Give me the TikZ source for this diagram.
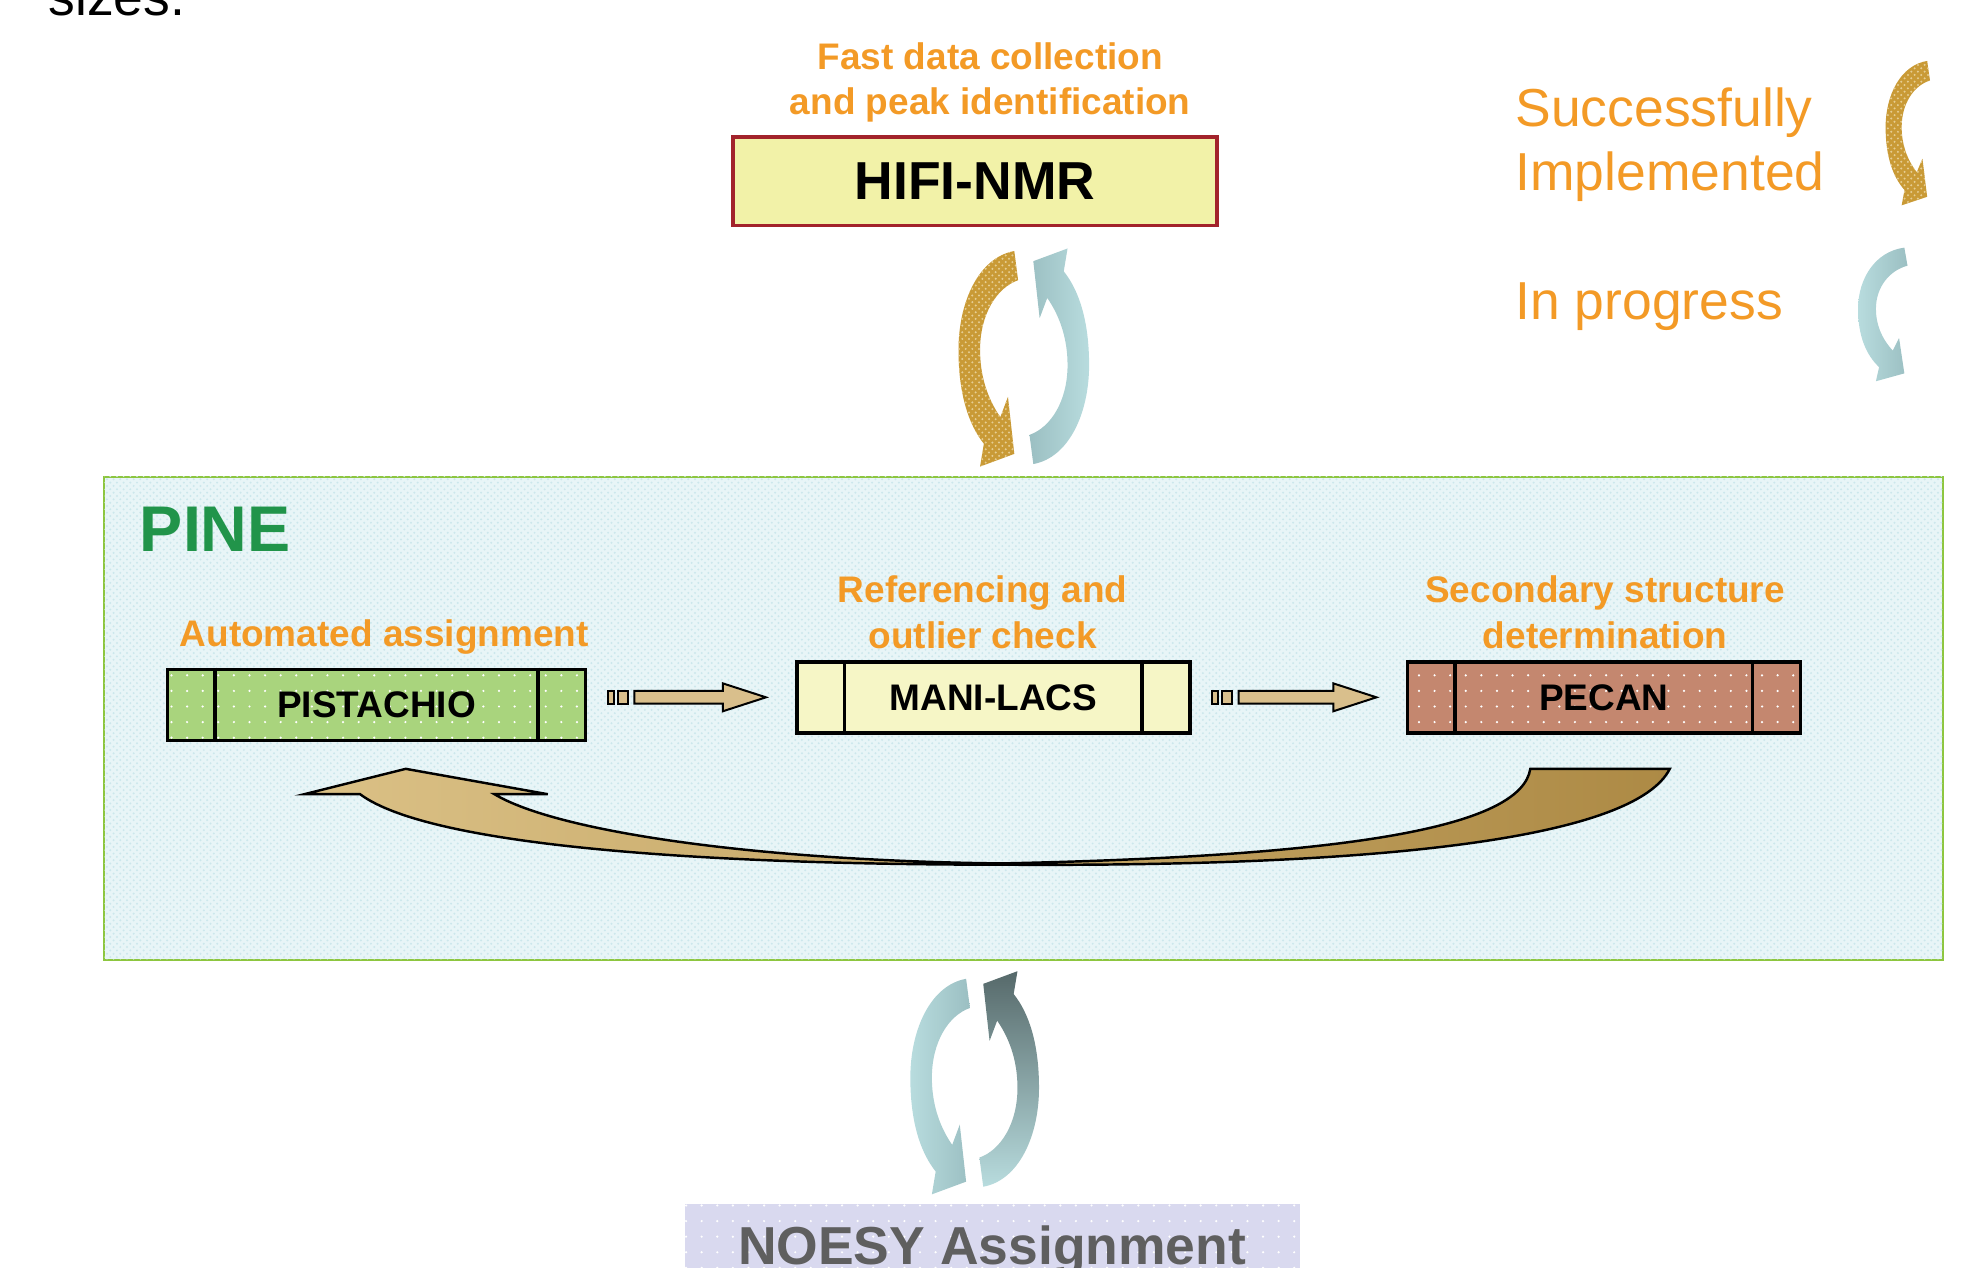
\documentclass[tikz,border=0pt]{standalone}
\usepackage{fontspec}
\setmainfont{Liberation Sans}
\usepackage{xcolor}
\definecolor{labelorange}{HTML}{F39A26}
\definecolor{pinegreen}{HTML}{21944A}
\definecolor{pineframe}{HTML}{8DC63F}
\definecolor{pinebg}{HTML}{E8F5F7}
\definecolor{pinegrid}{HTML}{CCE7EC}
\definecolor{hifired}{HTML}{A2232B}
\definecolor{hifiyellow}{HTML}{F2F2A8}
\definecolor{pistgreen}{HTML}{A9D47D}
\definecolor{manicream}{HTML}{F6F6C6}
\definecolor{pecanbrown}{HTML}{C4876F}
\definecolor{flowtan}{HTML}{D9BF8C}
\definecolor{goldloop}{HTML}{C99A36}
\definecolor{goldlight}{HTML}{E6CD92}
\definecolor{bluelight}{HTML}{B8DCDE}
\definecolor{bluedark}{HTML}{9BBFC2}
\definecolor{slatedark}{HTML}{56696A}
\definecolor{swooshlight}{HTML}{DBC186}
\definecolor{swooshdark}{HTML}{AD8A45}
\definecolor{noesybg}{HTML}{D9D9EF}
\definecolor{noesytext}{HTML}{5F5F5F}
\usepackage{tikz}
\usetikzlibrary{calc,positioning,patterns,patterns.meta}

\tikzdeclarepattern{
  name=sparsedots,
  type=uncolored,
  bounding box={(-3.5pt,-3.5pt) and (3.5pt,3.5pt)},
  tile size={(7pt,7pt)},
  code={\fill (0pt,0pt) circle (0.55pt);}
}

% half of a cycle arrow, centre at the origin, head at the bottom
\newcommand{\loopshape}{(0,-85) .. controls (-28,-80) and (-44,-45) .. (-44,-7)
  .. controls (-44,28) and (-36,52) .. (-24,67) -- (-27,85) -- (0,75) -- (-5,30) -- (-11,46)
  .. controls (-22,30) and (-27,12) .. (-27,-7) .. controls (-27,-35) and (-14,-56) .. (3,-62) -- cycle}

% block arrow between two tool boxes
\newcommand{\flowstep}[2]{%
  \coordinate (fs-a) at ($(#1.east |- #2.west)+(16,0)$);
  \coordinate (fs-b) at ($(#2.west)+(-23,0)$);
  \draw[flowbody] ($(fs-a)+(0,-5)$) rectangle ($(fs-a)+(5,5)$);
  \draw[flowbody] ($(fs-a)+(8,-5)$) rectangle ($(fs-a)+(16,5)$);
  \draw[flowbody] ($(fs-a)+(21,-5)$) -- ($(fs-b)+(-34,-5)$) -- ($(fs-b)+(-34,-11)$) -- (fs-b)
    -- ($(fs-b)+(-34,11)$) -- ($(fs-b)+(-34,5)$) -- ($(fs-a)+(21,5)$) -- cycle;
}

\begin{document}
\begin{tikzpicture}[x=0.02cm, y=-0.02cm,
    lbl/.style={text=labelorange, font=\fontsize{16.6}{20.5}\selectfont\bfseries, align=center, inner sep=0pt},
    legend/.style={text=labelorange, font=\fontsize{24}{28.5}\selectfont, align=left, inner sep=0pt},
    tool/.style={rectangle, draw=black, line width=1.6pt, minimum width=6.2cm, minimum height=1.12cm, font=\fontsize{16.6}{20}\selectfont\bfseries, text=black},
    speckle/.style={postaction={pattern=sparsedots, pattern color=white}},
    flowbody/.style={draw=black, line width=0.9pt, fill=flowtan},
    doneloop/.style={fill=goldloop, postaction={pattern=crosshatch dots, pattern color=goldlight}},
    workloop/.style={left color=bluelight, right color=bluedark},
    feedback/.style={draw=black, line width=1.1pt, left color=swooshlight, right color=swooshdark}
  ]
    \useasboundingbox (0,0) rectangle (1568,1000);

    \node[font=\fontsize{24}{28}\selectfont, anchor=base west, inner sep=0pt] (sizes) at (38,12) {sizes.};

    % HIFI-NMR
    \node[lbl] (hifilbl) at (781,65) {Fast data collection\\and peak identification};
    \node[draw=hifired, line width=1.6pt, fill=hifiyellow, minimum width=7.64cm, minimum height=1.4cm, font=\fontsize{24}{28}\selectfont\bfseries] (hifi) at (769,143) {HIFI-NMR};

    % legend
    \node[legend, anchor=west] (donelbl) at (1195,114) {Successfully\\Implemented};
    \node[legend, anchor=base west] (worklbl) at (1195,252) {In progress};
    \fill[doneloop, shift={(1520,105)}, xscale=0.745, yscale=0.67] \loopshape;
    \path[workloop, shift={(1502,248)}, xscale=0.83, yscale=0.62] \loopshape;

    % PINE
    \node[draw=pineframe, line width=0.9pt, fill=pinebg, postaction={pattern=crosshatch dots, pattern color=pinegrid}, minimum width=29.02cm, minimum height=7.62cm, inner sep=0pt] (pine) at (807.5,566.5) {};
    \node[font=\fontsize{29}{34}\selectfont\bfseries, text=pinegreen, anchor=base west, inner sep=0pt] (pinelbl) at (110,435) {PINE};

    \node[lbl, anchor=base] (pistlbl) at (303,510) {Automated assignment};
    \node[lbl] (manilbl) at (775,483) {Referencing and\\outlier check};
    \node[lbl] (pecanlbl) at (1266,483) {Secondary structure\\determination};

    \node[tool, minimum width=6.6cm, fill=pistgreen, speckle] (pist) at (297,556) {PISTACHIO};
    \node[tool, fill=manicream] (mani) at (783.5,550) {MANI-LACS};
    \node[tool, fill=pecanbrown, speckle] (pecan) at (1265,550) {PECAN};
    \foreach \b in {pist,mani,pecan}
      \draw[line width=1.6pt] ($(\b.north west)+(39,0)$) -- ($(\b.south west)+(39,0)$)
                              ($(\b.north east)+(-39,0)$) -- ($(\b.south east)+(-39,0)$);

    \flowstep{pist}{mani}
    \flowstep{mani}{pecan}

    % feedback from PECAN back to PISTACHIO
    \coordinate (fb-tip) at ($(pist.south)+(23,21)$);
    \coordinate (fb-tail) at ($(pecan.south)+(-58,27)$);
    \coordinate (fb-low) at (790,681);
    \draw[feedback] (fb-tip) -- ++(112,20) -- ++(-42,0)
      .. controls +(50,30) and (600,679) .. (fb-low)
      .. controls (1080,675) and (1200,650) .. (fb-tail) -- ++(110,0)
      .. controls (1290,660) and (1100,684) .. ($(fb-low)+(0,1)$)
      .. controls (560,682) and (340,668) .. ($(fb-tip)+(-36,20)$) -- ++(-44,0) -- cycle;

    % HIFI-NMR <-> PINE
    \fill[doneloop, shift={(800,283)}] \loopshape;
    \path[left color=bluedark, right color=bluelight, shift={(815,281)}, rotate=180] \loopshape;

    % PINE <-> NOESY
    \path[workloop, shift={(762,857)}] \loopshape;
    \path[top color=slatedark, bottom color=bluelight, shift={(775.5,851)}, rotate=180] \loopshape;

    \node[fill=noesybg, speckle, minimum width=9.7cm, inner sep=0pt, text height=0.94cm, text depth=1cm, anchor=base, font=\fontsize{24}{28}\selectfont\bfseries, text=noesytext] (noesy) at (782.5,997) {NOESY Assignment};
\end{tikzpicture}
\end{document}
